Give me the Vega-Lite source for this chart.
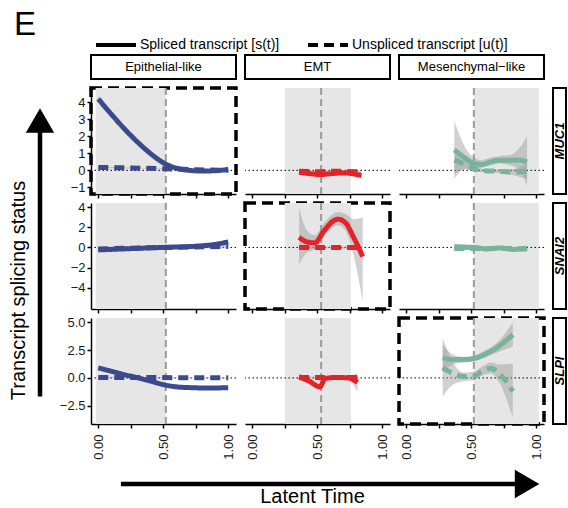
{
"$schema": "https://vega.github.io/schema/vega-lite/v6.json",
"padding": {"left": 8, "top": 9, "right": 0, "bottom": 0},
"title": {"text": "E", "anchor": "start", "fontSize": 33, "fontWeight": "normal", "color": "black", "dx": 6, "dy": 19, "offset": 0},
"datasets": {
"phase": [
{"s": "Epi", "a": -0.02, "b": 0.52, "m": 0.52},
{"s": "EMT", "a": 0.25, "b": 0.76, "m": 0.53},
{"s": "Mes", "a": 0.52, "b": 1.02, "m": 0.52}
],
"curves": [
{"s":"Epi","g":"MUC1","k":"Spliced transcript [s(t)]","t":0,"y":4.2,"lo":4.05,"hi":4.35},
{"s":"Epi","g":"MUC1","k":"Spliced transcript [s(t)]","t":0.1,"y":3.3,"lo":3.2,"hi":3.4},
{"s":"Epi","g":"MUC1","k":"Spliced transcript [s(t)]","t":0.2,"y":2.45,"lo":2.37,"hi":2.53},
{"s":"Epi","g":"MUC1","k":"Spliced transcript [s(t)]","t":0.3,"y":1.68,"lo":1.61,"hi":1.75},
{"s":"Epi","g":"MUC1","k":"Spliced transcript [s(t)]","t":0.4,"y":1.0,"lo":0.94,"hi":1.06},
{"s":"Epi","g":"MUC1","k":"Spliced transcript [s(t)]","t":0.5,"y":0.45,"lo":0.4,"hi":0.5},
{"s":"Epi","g":"MUC1","k":"Spliced transcript [s(t)]","t":0.6,"y":0.13,"lo":0.08,"hi":0.18},
{"s":"Epi","g":"MUC1","k":"Spliced transcript [s(t)]","t":0.7,"y":0.0,"lo":-0.05,"hi":0.05},
{"s":"Epi","g":"MUC1","k":"Spliced transcript [s(t)]","t":0.8,"y":-0.04,"lo":-0.1,"hi":0.02},
{"s":"Epi","g":"MUC1","k":"Spliced transcript [s(t)]","t":0.9,"y":-0.02,"lo":-0.1,"hi":0.06},
{"s":"Epi","g":"MUC1","k":"Spliced transcript [s(t)]","t":1.0,"y":0.05,"lo":-0.12,"hi":0.22},
{"s":"Epi","g":"MUC1","k":"Unspliced transcript [u(t)]","t":0,"y":0.17,"lo":0.12,"hi":0.22},
{"s":"Epi","g":"MUC1","k":"Unspliced transcript [u(t)]","t":0.25,"y":0.14,"lo":0.11,"hi":0.17},
{"s":"Epi","g":"MUC1","k":"Unspliced transcript [u(t)]","t":0.5,"y":0.1,"lo":0.07,"hi":0.13},
{"s":"Epi","g":"MUC1","k":"Unspliced transcript [u(t)]","t":0.75,"y":0.04,"lo":0.01,"hi":0.07},
{"s":"Epi","g":"MUC1","k":"Unspliced transcript [u(t)]","t":1.0,"y":0.0,"lo":-0.06,"hi":0.06},
{"s":"Epi","g":"SNAI2","k":"Spliced transcript [s(t)]","t":0,"y":-0.25,"lo":-0.4,"hi":-0.1},
{"s":"Epi","g":"SNAI2","k":"Spliced transcript [s(t)]","t":0.25,"y":-0.12,"lo":-0.22,"hi":-0.02},
{"s":"Epi","g":"SNAI2","k":"Spliced transcript [s(t)]","t":0.5,"y":0.0,"lo":-0.08,"hi":0.08},
{"s":"Epi","g":"SNAI2","k":"Spliced transcript [s(t)]","t":0.75,"y":0.12,"lo":0.03,"hi":0.21},
{"s":"Epi","g":"SNAI2","k":"Spliced transcript [s(t)]","t":0.9,"y":0.3,"lo":0.15,"hi":0.45},
{"s":"Epi","g":"SNAI2","k":"Spliced transcript [s(t)]","t":1.0,"y":0.55,"lo":0.3,"hi":0.8},
{"s":"Epi","g":"SNAI2","k":"Unspliced transcript [u(t)]","t":0,"y":-0.15,"lo":-0.3,"hi":0.0},
{"s":"Epi","g":"SNAI2","k":"Unspliced transcript [u(t)]","t":0.5,"y":0.0,"lo":-0.08,"hi":0.08},
{"s":"Epi","g":"SNAI2","k":"Unspliced transcript [u(t)]","t":1.0,"y":0.1,"lo":-0.1,"hi":0.3},
{"s":"Epi","g":"SLPI","k":"Spliced transcript [s(t)]","t":0,"y":0.9,"lo":0.75,"hi":1.05},
{"s":"Epi","g":"SLPI","k":"Spliced transcript [s(t)]","t":0.1,"y":0.6,"lo":0.5,"hi":0.7},
{"s":"Epi","g":"SLPI","k":"Spliced transcript [s(t)]","t":0.2,"y":0.3,"lo":0.22,"hi":0.38},
{"s":"Epi","g":"SLPI","k":"Spliced transcript [s(t)]","t":0.3,"y":0.02,"lo":-0.05,"hi":0.09},
{"s":"Epi","g":"SLPI","k":"Spliced transcript [s(t)]","t":0.4,"y":-0.28,"lo":-0.34,"hi":-0.22},
{"s":"Epi","g":"SLPI","k":"Spliced transcript [s(t)]","t":0.52,"y":-0.65,"lo":-0.71,"hi":-0.59},
{"s":"Epi","g":"SLPI","k":"Spliced transcript [s(t)]","t":0.6,"y":-0.8,"lo":-0.86,"hi":-0.74},
{"s":"Epi","g":"SLPI","k":"Spliced transcript [s(t)]","t":0.7,"y":-0.87,"lo":-0.93,"hi":-0.81},
{"s":"Epi","g":"SLPI","k":"Spliced transcript [s(t)]","t":0.8,"y":-0.9,"lo":-0.97,"hi":-0.83},
{"s":"Epi","g":"SLPI","k":"Spliced transcript [s(t)]","t":0.9,"y":-0.9,"lo":-0.98,"hi":-0.82},
{"s":"Epi","g":"SLPI","k":"Spliced transcript [s(t)]","t":1.0,"y":-0.88,"lo":-1.0,"hi":-0.76},
{"s":"Epi","g":"SLPI","k":"Unspliced transcript [u(t)]","t":0,"y":0.05,"lo":0.0,"hi":0.1},
{"s":"Epi","g":"SLPI","k":"Unspliced transcript [u(t)]","t":0.5,"y":0.03,"lo":0.0,"hi":0.06},
{"s":"Epi","g":"SLPI","k":"Unspliced transcript [u(t)]","t":1.0,"y":0.02,"lo":-0.04,"hi":0.08},
{"s":"EMT","g":"MUC1","k":"Spliced transcript [s(t)]","t":0.36,"y":-0.12,"lo":-0.25,"hi":0.01},
{"s":"EMT","g":"MUC1","k":"Spliced transcript [s(t)]","t":0.45,"y":-0.2,"lo":-0.28,"hi":-0.12},
{"s":"EMT","g":"MUC1","k":"Spliced transcript [s(t)]","t":0.52,"y":-0.25,"lo":-0.32,"hi":-0.18},
{"s":"EMT","g":"MUC1","k":"Spliced transcript [s(t)]","t":0.6,"y":-0.2,"lo":-0.27,"hi":-0.13},
{"s":"EMT","g":"MUC1","k":"Spliced transcript [s(t)]","t":0.7,"y":-0.15,"lo":-0.23,"hi":-0.07},
{"s":"EMT","g":"MUC1","k":"Spliced transcript [s(t)]","t":0.84,"y":-0.3,"lo":-0.45,"hi":-0.15},
{"s":"EMT","g":"MUC1","k":"Unspliced transcript [u(t)]","t":0.36,"y":-0.05,"lo":-0.12,"hi":0.02},
{"s":"EMT","g":"MUC1","k":"Unspliced transcript [u(t)]","t":0.5,"y":-0.08,"lo":-0.13,"hi":-0.03},
{"s":"EMT","g":"MUC1","k":"Unspliced transcript [u(t)]","t":0.65,"y":-0.05,"lo":-0.1,"hi":0.0},
{"s":"EMT","g":"MUC1","k":"Unspliced transcript [u(t)]","t":0.84,"y":-0.1,"lo":-0.2,"hi":0.0},
{"s":"EMT","g":"SNAI2","k":"Spliced transcript [s(t)]","t":0.36,"y":1.0,"lo":-1.7,"hi":3.9},
{"s":"EMT","g":"SNAI2","k":"Spliced transcript [s(t)]","t":0.42,"y":0.55,"lo":-0.5,"hi":1.7},
{"s":"EMT","g":"SNAI2","k":"Spliced transcript [s(t)]","t":0.48,"y":0.45,"lo":-0.2,"hi":1.2},
{"s":"EMT","g":"SNAI2","k":"Spliced transcript [s(t)]","t":0.55,"y":1.6,"lo":1.0,"hi":2.4},
{"s":"EMT","g":"SNAI2","k":"Spliced transcript [s(t)]","t":0.62,"y":2.6,"lo":2.0,"hi":3.3},
{"s":"EMT","g":"SNAI2","k":"Spliced transcript [s(t)]","t":0.66,"y":2.8,"lo":2.2,"hi":3.5},
{"s":"EMT","g":"SNAI2","k":"Spliced transcript [s(t)]","t":0.72,"y":2.4,"lo":1.6,"hi":3.3},
{"s":"EMT","g":"SNAI2","k":"Spliced transcript [s(t)]","t":0.78,"y":1.0,"lo":-0.8,"hi":2.8},
{"s":"EMT","g":"SNAI2","k":"Spliced transcript [s(t)]","t":0.85,"y":-0.9,"lo":-5.3,"hi":3.0},
{"s":"EMT","g":"SNAI2","k":"Unspliced transcript [u(t)]","t":0.36,"y":0.0,"lo":-0.15,"hi":0.15},
{"s":"EMT","g":"SNAI2","k":"Unspliced transcript [u(t)]","t":0.6,"y":0.0,"lo":-0.1,"hi":0.1},
{"s":"EMT","g":"SNAI2","k":"Unspliced transcript [u(t)]","t":0.84,"y":0.0,"lo":-0.2,"hi":0.2},
{"s":"EMT","g":"SLPI","k":"Spliced transcript [s(t)]","t":0.36,"y":0.1,"lo":-0.2,"hi":0.4},
{"s":"EMT","g":"SLPI","k":"Spliced transcript [s(t)]","t":0.44,"y":-0.3,"lo":-0.5,"hi":-0.1},
{"s":"EMT","g":"SLPI","k":"Spliced transcript [s(t)]","t":0.52,"y":-0.8,"lo":-1.0,"hi":-0.6},
{"s":"EMT","g":"SLPI","k":"Spliced transcript [s(t)]","t":0.56,"y":-0.05,"lo":-0.2,"hi":0.1},
{"s":"EMT","g":"SLPI","k":"Spliced transcript [s(t)]","t":0.65,"y":0.05,"lo":-0.1,"hi":0.2},
{"s":"EMT","g":"SLPI","k":"Spliced transcript [s(t)]","t":0.74,"y":0.0,"lo":-0.2,"hi":0.2},
{"s":"EMT","g":"SLPI","k":"Spliced transcript [s(t)]","t":0.81,"y":-0.4,"lo":-1.2,"hi":0.4},
{"s":"EMT","g":"SLPI","k":"Unspliced transcript [u(t)]","t":0.36,"y":0.05,"lo":-0.05,"hi":0.15},
{"s":"EMT","g":"SLPI","k":"Unspliced transcript [u(t)]","t":0.6,"y":0.05,"lo":-0.02,"hi":0.12},
{"s":"EMT","g":"SLPI","k":"Unspliced transcript [u(t)]","t":0.81,"y":0.05,"lo":-0.1,"hi":0.2},
{"s":"Mes","g":"MUC1","k":"Spliced transcript [s(t)]","t":0.37,"y":1.2,"lo":-0.5,"hi":2.9},
{"s":"Mes","g":"MUC1","k":"Spliced transcript [s(t)]","t":0.45,"y":0.75,"lo":0.1,"hi":1.4},
{"s":"Mes","g":"MUC1","k":"Spliced transcript [s(t)]","t":0.52,"y":0.4,"lo":0.1,"hi":0.75},
{"s":"Mes","g":"MUC1","k":"Spliced transcript [s(t)]","t":0.58,"y":0.35,"lo":0.15,"hi":0.6},
{"s":"Mes","g":"MUC1","k":"Spliced transcript [s(t)]","t":0.65,"y":0.5,"lo":0.3,"hi":0.75},
{"s":"Mes","g":"MUC1","k":"Spliced transcript [s(t)]","t":0.72,"y":0.6,"lo":0.4,"hi":0.85},
{"s":"Mes","g":"MUC1","k":"Spliced transcript [s(t)]","t":0.8,"y":0.6,"lo":0.3,"hi":0.9},
{"s":"Mes","g":"MUC1","k":"Spliced transcript [s(t)]","t":0.87,"y":0.6,"lo":0.0,"hi":1.3},
{"s":"Mes","g":"MUC1","k":"Spliced transcript [s(t)]","t":0.93,"y":0.5,"lo":-0.9,"hi":2.0},
{"s":"Mes","g":"MUC1","k":"Unspliced transcript [u(t)]","t":0.37,"y":0.6,"lo":-0.2,"hi":1.4},
{"s":"Mes","g":"MUC1","k":"Unspliced transcript [u(t)]","t":0.45,"y":0.35,"lo":0.05,"hi":0.65},
{"s":"Mes","g":"MUC1","k":"Unspliced transcript [u(t)]","t":0.52,"y":0.1,"lo":-0.05,"hi":0.25},
{"s":"Mes","g":"MUC1","k":"Unspliced transcript [u(t)]","t":0.6,"y":-0.02,"lo":-0.12,"hi":0.08},
{"s":"Mes","g":"MUC1","k":"Unspliced transcript [u(t)]","t":0.7,"y":-0.05,"lo":-0.15,"hi":0.05},
{"s":"Mes","g":"MUC1","k":"Unspliced transcript [u(t)]","t":0.8,"y":-0.1,"lo":-0.25,"hi":0.05},
{"s":"Mes","g":"MUC1","k":"Unspliced transcript [u(t)]","t":0.93,"y":-0.05,"lo":-0.5,"hi":0.4},
{"s":"Mes","g":"SNAI2","k":"Spliced transcript [s(t)]","t":0.37,"y":0.05,"lo":-0.3,"hi":0.4},
{"s":"Mes","g":"SNAI2","k":"Spliced transcript [s(t)]","t":0.52,"y":0.0,"lo":-0.15,"hi":0.15},
{"s":"Mes","g":"SNAI2","k":"Spliced transcript [s(t)]","t":0.62,"y":-0.15,"lo":-0.28,"hi":-0.02},
{"s":"Mes","g":"SNAI2","k":"Spliced transcript [s(t)]","t":0.72,"y":-0.05,"lo":-0.18,"hi":0.08},
{"s":"Mes","g":"SNAI2","k":"Spliced transcript [s(t)]","t":0.82,"y":-0.2,"lo":-0.35,"hi":-0.05},
{"s":"Mes","g":"SNAI2","k":"Spliced transcript [s(t)]","t":0.93,"y":-0.1,"lo":-0.45,"hi":0.25},
{"s":"Mes","g":"SNAI2","k":"Unspliced transcript [u(t)]","t":0.37,"y":-0.1,"lo":-0.3,"hi":0.1},
{"s":"Mes","g":"SNAI2","k":"Unspliced transcript [u(t)]","t":0.65,"y":-0.1,"lo":-0.2,"hi":0.0},
{"s":"Mes","g":"SNAI2","k":"Unspliced transcript [u(t)]","t":0.93,"y":-0.1,"lo":-0.3,"hi":0.1},
{"s":"Mes","g":"SLPI","k":"Spliced transcript [s(t)]","t":0.28,"y":1.8,"lo":0.6,"hi":3.0},
{"s":"Mes","g":"SLPI","k":"Spliced transcript [s(t)]","t":0.36,"y":1.65,"lo":1.2,"hi":2.1},
{"s":"Mes","g":"SLPI","k":"Spliced transcript [s(t)]","t":0.44,"y":1.65,"lo":1.4,"hi":1.9},
{"s":"Mes","g":"SLPI","k":"Spliced transcript [s(t)]","t":0.52,"y":1.75,"lo":1.5,"hi":2.0},
{"s":"Mes","g":"SLPI","k":"Spliced transcript [s(t)]","t":0.6,"y":2.1,"lo":1.8,"hi":2.45},
{"s":"Mes","g":"SLPI","k":"Spliced transcript [s(t)]","t":0.7,"y":2.75,"lo":2.3,"hi":3.2},
{"s":"Mes","g":"SLPI","k":"Spliced transcript [s(t)]","t":0.82,"y":3.9,"lo":2.8,"hi":5.0},
{"s":"Mes","g":"SLPI","k":"Unspliced transcript [u(t)]","t":0.28,"y":0.9,"lo":-1.7,"hi":3.6},
{"s":"Mes","g":"SLPI","k":"Unspliced transcript [u(t)]","t":0.36,"y":0.4,"lo":-0.6,"hi":1.4},
{"s":"Mes","g":"SLPI","k":"Unspliced transcript [u(t)]","t":0.44,"y":0.12,"lo":-0.3,"hi":0.5},
{"s":"Mes","g":"SLPI","k":"Unspliced transcript [u(t)]","t":0.52,"y":0.15,"lo":-0.2,"hi":0.55},
{"s":"Mes","g":"SLPI","k":"Unspliced transcript [u(t)]","t":0.58,"y":0.6,"lo":0.2,"hi":1.0},
{"s":"Mes","g":"SLPI","k":"Unspliced transcript [u(t)]","t":0.65,"y":0.87,"lo":0.4,"hi":1.4},
{"s":"Mes","g":"SLPI","k":"Unspliced transcript [u(t)]","t":0.72,"y":0.35,"lo":-0.5,"hi":1.2},
{"s":"Mes","g":"SLPI","k":"Unspliced transcript [u(t)]","t":0.82,"y":-1.2,"lo":-3.6,"hi":1.3}
]
},
"spacing": 4,
"hconcat": [
{
"width": 24, "height": 345,
"data": {"values": [{"p0": 0.01, "p1": 0.79, "h": 0.81}]},
"layer": [
{"mark": {"type": "rule", "color": "black", "strokeWidth": 4.5},
 "encoding": {"y": {"field": "p0", "type": "quantitative", "scale": {"domain": [0, 1], "nice": false, "zero": false}, "axis": {"domain": false, "ticks": false, "labels": false, "grid": false, "title": "Transcript splicing status", "titleFontSize": 20, "titleFontWeight": "normal", "titleColor": "black", "titlePadding": 0, "titleY": 235}}, "y2": {"field": "p1"}}},
{"mark": {"type": "point", "shape": "triangle-up", "filled": true, "color": "black", "size": 800, "opacity": 1},
 "encoding": {"y": {"field": "h", "type": "quantitative", "axis": {"domain": false, "ticks": false, "labels": false, "grid": false, "title": "Transcript splicing status", "titleFontSize": 20, "titleFontWeight": "normal", "titleColor": "black", "titlePadding": 0, "titleY": 235}}}}
]
},
{
"spacing": 7,
"vconcat": [
{
"columns": 4,
"spacing": {"row": 9, "column": 9},
"bounds": "flush",
"align": "each",
"concat": [
{"width": 145, "height": 24, "view": {"stroke": "black", "strokeWidth": 2}, "data": {"values": [{"label": "Epithelial-like"}]}, "mark": {"type": "text", "fontSize": 13, "color": "black"}, "encoding": {"text": {"field": "label"}}},
{"width": 145, "height": 24, "view": {"stroke": "black", "strokeWidth": 2}, "data": {"values": [{"label": "EMT"}]}, "mark": {"type": "text", "fontSize": 13, "color": "black"}, "encoding": {"text": {"field": "label"}}},
{"width": 145, "height": 24, "view": {"stroke": "black", "strokeWidth": 2}, "data": {"values": [{"label": "Mesenchymal−like"}]}, "mark": {"type": "text", "fontSize": 13, "color": "black"}, "encoding": {"text": {"field": "label"}}},
{"width": 13, "height": 24, "data": {"values": [{"label": ""}]}, "mark": {"type": "text"}, "encoding": {"text": {"field": "label"}}},

{"width": 145, "height": 106, "view": {"stroke": "black", "strokeWidth": 3.5, "strokeDash": [11, 6]},
"layer": [
{"data": {"name": "phase"}, "transform": [{"filter": "datum.s=='Epi'"}], "mark": {"type": "rect", "color": "#E6E6E6"}, "encoding": {"x": {"field": "a", "type": "quantitative", "scale": {"domain": [-0.056, 1.06], "nice": false, "zero": false}, "axis": {"values": [0, 0.25, 0.5, 0.75, 1], "labels": false, "title": null}}, "x2": {"field": "b"}}},
{"data": {"name": "phase"}, "transform": [{"filter": "datum.s=='Epi'"}], "mark": {"type": "rule", "color": "black", "strokeDash": [1.5, 2.5], "strokeWidth": 1}, "encoding": {"y": {"datum": 0, "type": "quantitative", "scale": {"domain": [-1.39, 4.84], "nice": false, "zero": false}, "axis": {"values": [-1, 0, 1, 2, 3, 4], "format": "d", "title": null}}}},
{"data": {"name": "phase"}, "transform": [{"filter": "datum.s=='Epi'"}], "mark": {"type": "rule", "color": "#9A9A9A", "strokeDash": [7, 4], "strokeWidth": 2}, "encoding": {"x": {"field": "m", "type": "quantitative", "axis": {"values": [0, 0.25, 0.5, 0.75, 1], "labels": false, "title": null}}}},
{"data": {"name": "curves"}, "transform": [{"filter": "datum.s=='Epi' && datum.g=='MUC1'"}], "mark": {"type": "area", "color": "#999999", "opacity": 0.45, "interpolate": "monotone"}, "encoding": {"x": {"field": "t", "type": "quantitative", "axis": {"values": [0, 0.25, 0.5, 0.75, 1], "labels": false, "title": null}}, "y": {"field": "lo", "type": "quantitative", "axis": {"values": [-1, 0, 1, 2, 3, 4], "format": "d", "title": null}}, "y2": {"field": "hi"}, "detail": {"field": "k"}}},
{"data": {"name": "curves"}, "transform": [{"filter": "datum.s=='Epi' && datum.g=='MUC1'"}], "mark": {"type": "line", "color": "#3B4A8C", "strokeWidth": 5, "interpolate": "monotone", "strokeCap": "butt"}, "encoding": {"x": {"field": "t", "type": "quantitative", "axis": {"values": [0, 0.25, 0.5, 0.75, 1], "labels": false, "title": null}}, "y": {"field": "y", "type": "quantitative", "axis": {"values": [-1, 0, 1, 2, 3, 4], "format": "d", "title": null}}, "strokeDash": {"field": "k", "type": "nominal", "title": null, "scale": {"domain": ["Spliced transcript [s(t)]", "Unspliced transcript [u(t)]"], "range": [[1, 0], [10, 6]]}}}}
]},

{"width": 145, "height": 106,
"layer": [
{"data": {"name": "phase"}, "transform": [{"filter": "datum.s=='EMT'"}], "mark": {"type": "rect", "color": "#E6E6E6"}, "encoding": {"x": {"field": "a", "type": "quantitative", "scale": {"domain": [-0.056, 1.06], "nice": false, "zero": false}, "axis": {"values": [0, 0.25, 0.5, 0.75, 1], "labels": false, "title": null}}, "x2": {"field": "b"}}},
{"data": {"name": "phase"}, "transform": [{"filter": "datum.s=='EMT'"}], "mark": {"type": "rule", "color": "black", "strokeDash": [1.5, 2.5], "strokeWidth": 1}, "encoding": {"y": {"datum": 0, "type": "quantitative", "scale": {"domain": [-1.39, 4.84], "nice": false, "zero": false}, "axis": null}}},
{"data": {"name": "phase"}, "transform": [{"filter": "datum.s=='EMT'"}], "mark": {"type": "rule", "color": "#9A9A9A", "strokeDash": [7, 4], "strokeWidth": 2}, "encoding": {"x": {"field": "m", "type": "quantitative", "axis": {"values": [0, 0.25, 0.5, 0.75, 1], "labels": false, "title": null}}}},
{"data": {"name": "curves"}, "transform": [{"filter": "datum.s=='EMT' && datum.g=='MUC1'"}], "mark": {"type": "area", "color": "#999999", "opacity": 0.45, "interpolate": "monotone"}, "encoding": {"x": {"field": "t", "type": "quantitative", "axis": {"values": [0, 0.25, 0.5, 0.75, 1], "labels": false, "title": null}}, "y": {"field": "lo", "type": "quantitative", "axis": null}, "y2": {"field": "hi"}, "detail": {"field": "k"}}},
{"data": {"name": "curves"}, "transform": [{"filter": "datum.s=='EMT' && datum.g=='MUC1'"}], "mark": {"type": "line", "color": "#E2232A", "strokeWidth": 5, "interpolate": "monotone", "strokeCap": "butt"}, "encoding": {"x": {"field": "t", "type": "quantitative", "axis": {"values": [0, 0.25, 0.5, 0.75, 1], "labels": false, "title": null}}, "y": {"field": "y", "type": "quantitative", "axis": null}, "strokeDash": {"field": "k", "type": "nominal", "title": null, "scale": {"domain": ["Spliced transcript [s(t)]", "Unspliced transcript [u(t)]"], "range": [[1, 0], [10, 6]]}}}}
]},

{"width": 145, "height": 106,
"layer": [
{"data": {"name": "phase"}, "transform": [{"filter": "datum.s=='Mes'"}], "mark": {"type": "rect", "color": "#E6E6E6"}, "encoding": {"x": {"field": "a", "type": "quantitative", "scale": {"domain": [-0.056, 1.06], "nice": false, "zero": false}, "axis": {"values": [0, 0.25, 0.5, 0.75, 1], "labels": false, "title": null}}, "x2": {"field": "b"}}},
{"data": {"name": "phase"}, "transform": [{"filter": "datum.s=='Mes'"}], "mark": {"type": "rule", "color": "black", "strokeDash": [1.5, 2.5], "strokeWidth": 1}, "encoding": {"y": {"datum": 0, "type": "quantitative", "scale": {"domain": [-1.39, 4.84], "nice": false, "zero": false}, "axis": null}}},
{"data": {"name": "phase"}, "transform": [{"filter": "datum.s=='Mes'"}], "mark": {"type": "rule", "color": "#9A9A9A", "strokeDash": [7, 4], "strokeWidth": 2}, "encoding": {"x": {"field": "m", "type": "quantitative", "axis": {"values": [0, 0.25, 0.5, 0.75, 1], "labels": false, "title": null}}}},
{"data": {"name": "curves"}, "transform": [{"filter": "datum.s=='Mes' && datum.g=='MUC1'"}], "mark": {"type": "area", "color": "#999999", "opacity": 0.45, "interpolate": "monotone"}, "encoding": {"x": {"field": "t", "type": "quantitative", "axis": {"values": [0, 0.25, 0.5, 0.75, 1], "labels": false, "title": null}}, "y": {"field": "lo", "type": "quantitative", "axis": null}, "y2": {"field": "hi"}, "detail": {"field": "k"}}},
{"data": {"name": "curves"}, "transform": [{"filter": "datum.s=='Mes' && datum.g=='MUC1'"}], "mark": {"type": "line", "color": "#78B49C", "strokeWidth": 5, "interpolate": "monotone", "strokeCap": "butt"}, "encoding": {"x": {"field": "t", "type": "quantitative", "axis": {"values": [0, 0.25, 0.5, 0.75, 1], "labels": false, "title": null}}, "y": {"field": "y", "type": "quantitative", "axis": null}, "strokeDash": {"field": "k", "type": "nominal", "title": null, "scale": {"domain": ["Spliced transcript [s(t)]", "Unspliced transcript [u(t)]"], "range": [[1, 0], [10, 6]]}}}}
]},

{"width": 13, "height": 106, "view": {"stroke": "black", "strokeWidth": 2}, "data": {"values": [{"gene": "MUC1"}]}, "mark": {"type": "text", "angle": 270, "fontSize": 13, "fontWeight": "bold", "fontStyle": "italic", "color": "black"}, "encoding": {"text": {"field": "gene"}}},

{"width": 145, "height": 106,
"layer": [
{"data": {"name": "phase"}, "transform": [{"filter": "datum.s=='Epi'"}], "mark": {"type": "rect", "color": "#E6E6E6"}, "encoding": {"x": {"field": "a", "type": "quantitative", "scale": {"domain": [-0.056, 1.06], "nice": false, "zero": false}, "axis": {"values": [0, 0.25, 0.5, 0.75, 1], "labels": false, "title": null}}, "x2": {"field": "b"}}},
{"data": {"name": "phase"}, "transform": [{"filter": "datum.s=='Epi'"}], "mark": {"type": "rule", "color": "black", "strokeDash": [1.5, 2.5], "strokeWidth": 1}, "encoding": {"y": {"datum": 0, "type": "quantitative", "scale": {"domain": [-6.1, 4.4], "nice": false, "zero": false}, "axis": {"values": [-4, -2, 0, 2, 4], "format": "d", "title": null}}}},
{"data": {"name": "phase"}, "transform": [{"filter": "datum.s=='Epi'"}], "mark": {"type": "rule", "color": "#9A9A9A", "strokeDash": [7, 4], "strokeWidth": 2}, "encoding": {"x": {"field": "m", "type": "quantitative", "axis": {"values": [0, 0.25, 0.5, 0.75, 1], "labels": false, "title": null}}}},
{"data": {"name": "curves"}, "transform": [{"filter": "datum.s=='Epi' && datum.g=='SNAI2'"}], "mark": {"type": "area", "color": "#999999", "opacity": 0.45, "interpolate": "monotone"}, "encoding": {"x": {"field": "t", "type": "quantitative", "axis": {"values": [0, 0.25, 0.5, 0.75, 1], "labels": false, "title": null}}, "y": {"field": "lo", "type": "quantitative", "axis": {"values": [-4, -2, 0, 2, 4], "format": "d", "title": null}}, "y2": {"field": "hi"}, "detail": {"field": "k"}}},
{"data": {"name": "curves"}, "transform": [{"filter": "datum.s=='Epi' && datum.g=='SNAI2'"}], "mark": {"type": "line", "color": "#3B4A8C", "strokeWidth": 5, "interpolate": "monotone", "strokeCap": "butt"}, "encoding": {"x": {"field": "t", "type": "quantitative", "axis": {"values": [0, 0.25, 0.5, 0.75, 1], "labels": false, "title": null}}, "y": {"field": "y", "type": "quantitative", "axis": {"values": [-4, -2, 0, 2, 4], "format": "d", "title": null}}, "strokeDash": {"field": "k", "type": "nominal", "title": null, "scale": {"domain": ["Spliced transcript [s(t)]", "Unspliced transcript [u(t)]"], "range": [[1, 0], [10, 6]]}}}}
]},

{"width": 145, "height": 106, "view": {"stroke": "black", "strokeWidth": 3.5, "strokeDash": [11, 6]},
"layer": [
{"data": {"name": "phase"}, "transform": [{"filter": "datum.s=='EMT'"}], "mark": {"type": "rect", "color": "#E6E6E6"}, "encoding": {"x": {"field": "a", "type": "quantitative", "scale": {"domain": [-0.056, 1.06], "nice": false, "zero": false}, "axis": {"values": [0, 0.25, 0.5, 0.75, 1], "labels": false, "title": null}}, "x2": {"field": "b"}}},
{"data": {"name": "phase"}, "transform": [{"filter": "datum.s=='EMT'"}], "mark": {"type": "rule", "color": "black", "strokeDash": [1.5, 2.5], "strokeWidth": 1}, "encoding": {"y": {"datum": 0, "type": "quantitative", "scale": {"domain": [-6.1, 4.4], "nice": false, "zero": false}, "axis": null}}},
{"data": {"name": "phase"}, "transform": [{"filter": "datum.s=='EMT'"}], "mark": {"type": "rule", "color": "#9A9A9A", "strokeDash": [7, 4], "strokeWidth": 2}, "encoding": {"x": {"field": "m", "type": "quantitative", "axis": {"values": [0, 0.25, 0.5, 0.75, 1], "labels": false, "title": null}}}},
{"data": {"name": "curves"}, "transform": [{"filter": "datum.s=='EMT' && datum.g=='SNAI2'"}], "mark": {"type": "area", "color": "#999999", "opacity": 0.45, "interpolate": "monotone"}, "encoding": {"x": {"field": "t", "type": "quantitative", "axis": {"values": [0, 0.25, 0.5, 0.75, 1], "labels": false, "title": null}}, "y": {"field": "lo", "type": "quantitative", "axis": null}, "y2": {"field": "hi"}, "detail": {"field": "k"}}},
{"data": {"name": "curves"}, "transform": [{"filter": "datum.s=='EMT' && datum.g=='SNAI2'"}], "mark": {"type": "line", "color": "#E2232A", "strokeWidth": 5, "interpolate": "monotone", "strokeCap": "butt"}, "encoding": {"x": {"field": "t", "type": "quantitative", "axis": {"values": [0, 0.25, 0.5, 0.75, 1], "labels": false, "title": null}}, "y": {"field": "y", "type": "quantitative", "axis": null}, "strokeDash": {"field": "k", "type": "nominal", "title": null, "scale": {"domain": ["Spliced transcript [s(t)]", "Unspliced transcript [u(t)]"], "range": [[1, 0], [10, 6]]}}}}
]},

{"width": 145, "height": 106,
"layer": [
{"data": {"name": "phase"}, "transform": [{"filter": "datum.s=='Mes'"}], "mark": {"type": "rect", "color": "#E6E6E6"}, "encoding": {"x": {"field": "a", "type": "quantitative", "scale": {"domain": [-0.056, 1.06], "nice": false, "zero": false}, "axis": {"values": [0, 0.25, 0.5, 0.75, 1], "labels": false, "title": null}}, "x2": {"field": "b"}}},
{"data": {"name": "phase"}, "transform": [{"filter": "datum.s=='Mes'"}], "mark": {"type": "rule", "color": "black", "strokeDash": [1.5, 2.5], "strokeWidth": 1}, "encoding": {"y": {"datum": 0, "type": "quantitative", "scale": {"domain": [-6.1, 4.4], "nice": false, "zero": false}, "axis": null}}},
{"data": {"name": "phase"}, "transform": [{"filter": "datum.s=='Mes'"}], "mark": {"type": "rule", "color": "#9A9A9A", "strokeDash": [7, 4], "strokeWidth": 2}, "encoding": {"x": {"field": "m", "type": "quantitative", "axis": {"values": [0, 0.25, 0.5, 0.75, 1], "labels": false, "title": null}}}},
{"data": {"name": "curves"}, "transform": [{"filter": "datum.s=='Mes' && datum.g=='SNAI2'"}], "mark": {"type": "area", "color": "#999999", "opacity": 0.45, "interpolate": "monotone"}, "encoding": {"x": {"field": "t", "type": "quantitative", "axis": {"values": [0, 0.25, 0.5, 0.75, 1], "labels": false, "title": null}}, "y": {"field": "lo", "type": "quantitative", "axis": null}, "y2": {"field": "hi"}, "detail": {"field": "k"}}},
{"data": {"name": "curves"}, "transform": [{"filter": "datum.s=='Mes' && datum.g=='SNAI2'"}], "mark": {"type": "line", "color": "#78B49C", "strokeWidth": 5, "interpolate": "monotone", "strokeCap": "butt"}, "encoding": {"x": {"field": "t", "type": "quantitative", "axis": {"values": [0, 0.25, 0.5, 0.75, 1], "labels": false, "title": null}}, "y": {"field": "y", "type": "quantitative", "axis": null}, "strokeDash": {"field": "k", "type": "nominal", "title": null, "scale": {"domain": ["Spliced transcript [s(t)]", "Unspliced transcript [u(t)]"], "range": [[1, 0], [10, 6]]}}}}
]},

{"width": 13, "height": 106, "view": {"stroke": "black", "strokeWidth": 2}, "data": {"values": [{"gene": "SNAI2"}]}, "mark": {"type": "text", "angle": 270, "fontSize": 13, "fontWeight": "bold", "fontStyle": "italic", "color": "black"}, "encoding": {"text": {"field": "gene"}}},

{"width": 145, "height": 106,
"layer": [
{"data": {"name": "phase"}, "transform": [{"filter": "datum.s=='Epi'"}], "mark": {"type": "rect", "color": "#E6E6E6"}, "encoding": {"x": {"field": "a", "type": "quantitative", "scale": {"domain": [-0.056, 1.06], "nice": false, "zero": false}, "axis": {"values": [0, 0.25, 0.5, 0.75, 1], "labelAngle": 270, "labelPadding": 6, "labelExpr": "datum.value == 0.25 || datum.value == 0.75 ? '' : format(datum.value, '.2f')", "title": null}}, "x2": {"field": "b"}}},
{"data": {"name": "phase"}, "transform": [{"filter": "datum.s=='Epi'"}], "mark": {"type": "rule", "color": "black", "strokeDash": [1.5, 2.5], "strokeWidth": 1}, "encoding": {"y": {"datum": 0, "type": "quantitative", "scale": {"domain": [-4.15, 5.4], "nice": false, "zero": false}, "axis": {"values": [-2.5, 0, 2.5, 5], "format": ".1f", "title": null}}}},
{"data": {"name": "phase"}, "transform": [{"filter": "datum.s=='Epi'"}], "mark": {"type": "rule", "color": "#9A9A9A", "strokeDash": [7, 4], "strokeWidth": 2}, "encoding": {"x": {"field": "m", "type": "quantitative", "axis": {"values": [0, 0.25, 0.5, 0.75, 1], "labelAngle": 270, "labelPadding": 6, "labelExpr": "datum.value == 0.25 || datum.value == 0.75 ? '' : format(datum.value, '.2f')", "title": null}}}},
{"data": {"name": "curves"}, "transform": [{"filter": "datum.s=='Epi' && datum.g=='SLPI'"}], "mark": {"type": "area", "color": "#999999", "opacity": 0.45, "interpolate": "monotone"}, "encoding": {"x": {"field": "t", "type": "quantitative", "axis": {"values": [0, 0.25, 0.5, 0.75, 1], "labelAngle": 270, "labelPadding": 6, "labelExpr": "datum.value == 0.25 || datum.value == 0.75 ? '' : format(datum.value, '.2f')", "title": null}}, "y": {"field": "lo", "type": "quantitative", "axis": {"values": [-2.5, 0, 2.5, 5], "format": ".1f", "title": null}}, "y2": {"field": "hi"}, "detail": {"field": "k"}}},
{"data": {"name": "curves"}, "transform": [{"filter": "datum.s=='Epi' && datum.g=='SLPI'"}], "mark": {"type": "line", "color": "#3B4A8C", "strokeWidth": 5, "interpolate": "monotone", "strokeCap": "butt"}, "encoding": {"x": {"field": "t", "type": "quantitative", "axis": {"values": [0, 0.25, 0.5, 0.75, 1], "labelAngle": 270, "labelPadding": 6, "labelExpr": "datum.value == 0.25 || datum.value == 0.75 ? '' : format(datum.value, '.2f')", "title": null}}, "y": {"field": "y", "type": "quantitative", "axis": {"values": [-2.5, 0, 2.5, 5], "format": ".1f", "title": null}}, "strokeDash": {"field": "k", "type": "nominal", "title": null, "scale": {"domain": ["Spliced transcript [s(t)]", "Unspliced transcript [u(t)]"], "range": [[1, 0], [10, 6]]}}}}
]},

{"width": 145, "height": 106,
"layer": [
{"data": {"name": "phase"}, "transform": [{"filter": "datum.s=='EMT'"}], "mark": {"type": "rect", "color": "#E6E6E6"}, "encoding": {"x": {"field": "a", "type": "quantitative", "scale": {"domain": [-0.056, 1.06], "nice": false, "zero": false}, "axis": {"values": [0, 0.25, 0.5, 0.75, 1], "labelAngle": 270, "labelPadding": 6, "labelExpr": "datum.value == 0.25 || datum.value == 0.75 ? '' : format(datum.value, '.2f')", "title": null}}, "x2": {"field": "b"}}},
{"data": {"name": "phase"}, "transform": [{"filter": "datum.s=='EMT'"}], "mark": {"type": "rule", "color": "black", "strokeDash": [1.5, 2.5], "strokeWidth": 1}, "encoding": {"y": {"datum": 0, "type": "quantitative", "scale": {"domain": [-4.15, 5.4], "nice": false, "zero": false}, "axis": null}}},
{"data": {"name": "phase"}, "transform": [{"filter": "datum.s=='EMT'"}], "mark": {"type": "rule", "color": "#9A9A9A", "strokeDash": [7, 4], "strokeWidth": 2}, "encoding": {"x": {"field": "m", "type": "quantitative", "axis": {"values": [0, 0.25, 0.5, 0.75, 1], "labelAngle": 270, "labelPadding": 6, "labelExpr": "datum.value == 0.25 || datum.value == 0.75 ? '' : format(datum.value, '.2f')", "title": null}}}},
{"data": {"name": "curves"}, "transform": [{"filter": "datum.s=='EMT' && datum.g=='SLPI'"}], "mark": {"type": "area", "color": "#999999", "opacity": 0.45, "interpolate": "monotone"}, "encoding": {"x": {"field": "t", "type": "quantitative", "axis": {"values": [0, 0.25, 0.5, 0.75, 1], "labelAngle": 270, "labelPadding": 6, "labelExpr": "datum.value == 0.25 || datum.value == 0.75 ? '' : format(datum.value, '.2f')", "title": null}}, "y": {"field": "lo", "type": "quantitative", "axis": null}, "y2": {"field": "hi"}, "detail": {"field": "k"}}},
{"data": {"name": "curves"}, "transform": [{"filter": "datum.s=='EMT' && datum.g=='SLPI'"}], "mark": {"type": "line", "color": "#E2232A", "strokeWidth": 5, "interpolate": "monotone", "strokeCap": "butt"}, "encoding": {"x": {"field": "t", "type": "quantitative", "axis": {"values": [0, 0.25, 0.5, 0.75, 1], "labelAngle": 270, "labelPadding": 6, "labelExpr": "datum.value == 0.25 || datum.value == 0.75 ? '' : format(datum.value, '.2f')", "title": null}}, "y": {"field": "y", "type": "quantitative", "axis": null}, "strokeDash": {"field": "k", "type": "nominal", "title": null, "scale": {"domain": ["Spliced transcript [s(t)]", "Unspliced transcript [u(t)]"], "range": [[1, 0], [10, 6]]}}}}
]},

{"width": 145, "height": 106, "view": {"stroke": "black", "strokeWidth": 3.5, "strokeDash": [11, 6]},
"layer": [
{"data": {"name": "phase"}, "transform": [{"filter": "datum.s=='Mes'"}], "mark": {"type": "rect", "color": "#E6E6E6"}, "encoding": {"x": {"field": "a", "type": "quantitative", "scale": {"domain": [-0.056, 1.06], "nice": false, "zero": false}, "axis": {"values": [0, 0.25, 0.5, 0.75, 1], "labelAngle": 270, "labelPadding": 6, "labelExpr": "datum.value == 0.25 || datum.value == 0.75 ? '' : format(datum.value, '.2f')", "title": null}}, "x2": {"field": "b"}}},
{"data": {"name": "phase"}, "transform": [{"filter": "datum.s=='Mes'"}], "mark": {"type": "rule", "color": "black", "strokeDash": [1.5, 2.5], "strokeWidth": 1}, "encoding": {"y": {"datum": 0, "type": "quantitative", "scale": {"domain": [-4.15, 5.4], "nice": false, "zero": false}, "axis": null}}},
{"data": {"name": "phase"}, "transform": [{"filter": "datum.s=='Mes'"}], "mark": {"type": "rule", "color": "#9A9A9A", "strokeDash": [7, 4], "strokeWidth": 2}, "encoding": {"x": {"field": "m", "type": "quantitative", "axis": {"values": [0, 0.25, 0.5, 0.75, 1], "labelAngle": 270, "labelPadding": 6, "labelExpr": "datum.value == 0.25 || datum.value == 0.75 ? '' : format(datum.value, '.2f')", "title": null}}}},
{"data": {"name": "curves"}, "transform": [{"filter": "datum.s=='Mes' && datum.g=='SLPI'"}], "mark": {"type": "area", "color": "#999999", "opacity": 0.45, "interpolate": "monotone"}, "encoding": {"x": {"field": "t", "type": "quantitative", "axis": {"values": [0, 0.25, 0.5, 0.75, 1], "labelAngle": 270, "labelPadding": 6, "labelExpr": "datum.value == 0.25 || datum.value == 0.75 ? '' : format(datum.value, '.2f')", "title": null}}, "y": {"field": "lo", "type": "quantitative", "axis": null}, "y2": {"field": "hi"}, "detail": {"field": "k"}}},
{"data": {"name": "curves"}, "transform": [{"filter": "datum.s=='Mes' && datum.g=='SLPI'"}], "mark": {"type": "line", "color": "#78B49C", "strokeWidth": 5, "interpolate": "monotone", "strokeCap": "butt"}, "encoding": {"x": {"field": "t", "type": "quantitative", "axis": {"values": [0, 0.25, 0.5, 0.75, 1], "labelAngle": 270, "labelPadding": 6, "labelExpr": "datum.value == 0.25 || datum.value == 0.75 ? '' : format(datum.value, '.2f')", "title": null}}, "y": {"field": "y", "type": "quantitative", "axis": null}, "strokeDash": {"field": "k", "type": "nominal", "title": null, "scale": {"domain": ["Spliced transcript [s(t)]", "Unspliced transcript [u(t)]"], "range": [[1, 0], [10, 6]]}}}}
]},

{"width": 13, "height": 106, "view": {"stroke": "black", "strokeWidth": 2}, "data": {"values": [{"gene": "SLPI"}]}, "mark": {"type": "text", "angle": 270, "fontSize": 13, "fontWeight": "bold", "fontStyle": "italic", "color": "black"}, "encoding": {"text": {"field": "gene"}}}
]
},
{
"width": 460, "height": 4,
"data": {"values": [{"x0": 0.065, "x1": 0.94, "h": 0.948}]},
"layer": [
{"mark": {"type": "rule", "color": "black", "strokeWidth": 4.5},
 "encoding": {"x": {"field": "x0", "type": "quantitative", "scale": {"domain": [0, 1], "nice": false, "zero": false}, "axis": {"domain": false, "ticks": false, "labels": false, "grid": false, "title": "Latent Time", "titleFontSize": 20, "titleFontWeight": "normal", "titleColor": "black", "titlePadding": 0, "titleX": 221}}, "x2": {"field": "x1"}}},
{"mark": {"type": "point", "shape": "triangle-right", "filled": true, "color": "black", "size": 800, "opacity": 1},
 "encoding": {"x": {"field": "h", "type": "quantitative", "axis": {"domain": false, "ticks": false, "labels": false, "grid": false, "title": "Latent Time", "titleFontSize": 20, "titleFontWeight": "normal", "titleColor": "black", "titlePadding": 0, "titleX": 221}}}}
]
}
]
}
],
"config": {
"font": "Liberation Sans",
"view": {"stroke": null},
"axis": {"grid": false, "domainColor": "black", "domainWidth": 1.5, "tickColor": "black", "tickWidth": 1.5, "tickSize": 4, "labelColor": "#1a1a1a", "labelFontSize": 13, "labelFont": "Liberation Sans", "labelPadding": 2, "titleFont": "Liberation Sans"},
"legend": {"orient": "none", "legendX": 66, "legendY": -32, "direction": "horizontal", "symbolType": "stroke", "symbolStrokeWidth": 4, "symbolStrokeColor": "black", "symbolSize": 1600, "labelFontSize": 14, "labelColor": "black", "labelFont": "Liberation Sans", "columnPadding": 20, "labelOffset": 2, "labelLimit": 300},
"title": {"font": "Liberation Sans"},
"text": {"font": "Liberation Sans"}
}
}
